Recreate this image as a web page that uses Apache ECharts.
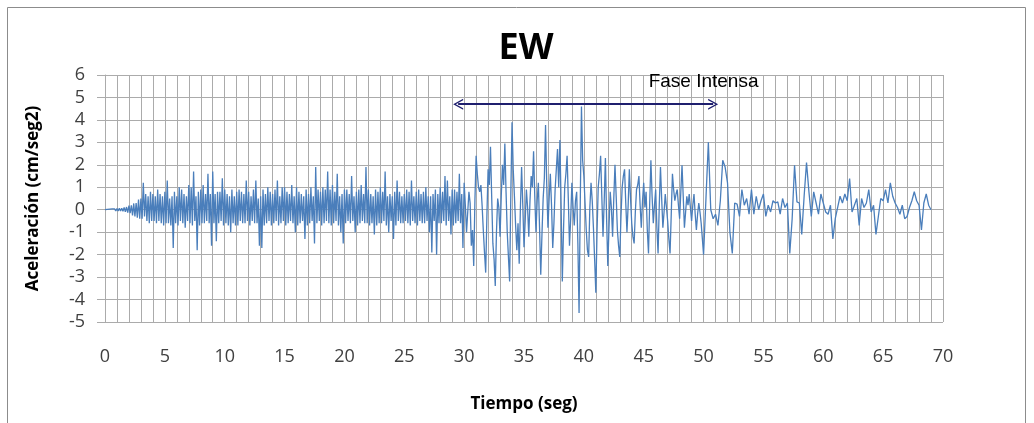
<!DOCTYPE html>
<html>
<head>
<meta charset="utf-8">
<script src="https://cdn.jsdelivr.net/npm/echarts@6/dist/echarts.min.js"></script>
<style>
  html, body { margin: 0; padding: 0; background: #fff; }
  #chart { width: 1034px; height: 423px; }
</style>
</head>
<body>
<div id="chart"></div>
<script>
// registro EW leído a ojo del gráfico: 0-50 s cada 0.1 s, 50-69 s cada 0.2 s
const acc00 = [0, -0.01, 0.02, -0.02, 0.03, -0.03, 0.04, -0.03, 0.04, -0.05,
  0.05, -0.05, 0.06, -0.06, 0.07, -0.07, 0.1, -0.09, 0.12, -0.13,
  0.18, -0.15, 0.2, -0.25, 0.28, -0.3, 0.3, -0.35, 0.45, -0.4,
  0.5, -0.4, 1.2, -0.3, 0.7, -0.5, 0.6, -0.6, 0.8, -0.5,
  0.7, -0.5, 0.6, -0.6, 0.9, -0.5, 0.7, -0.6, 0.6, -0.7,
  0.8, -0.6, 1.3, -0.6, 0.5, -0.7, 0.6, -1.7, 0.8, -0.6,
  0.6, -0.7, 1.0, -0.5, 0.9, -0.6, 0.7, -0.8, 0.6, -0.5,
  1.1, -0.6, 1.0, -0.7, 1.7, -0.5, 0.6, -1.8, 0.8, -0.7,
  0.9, -0.6, 1.1, -0.6, 0.7, -0.5, 1.6, -0.6, 0.7, -1.6,
  1.7, -0.6, 0.7, -1.4, 0.8, -0.6, 0.8, -0.5, 1.4, -0.7];
const acc10 = [0.9, -0.6, 0.7, -0.7, 0.6, -1.0, 0.9, -0.6, 0.6, -0.7,
  0.8, -0.7, 0.9, -0.5, 0.8, -0.6, 0.7, -0.6, 1.3, -0.5,
  0.8, -0.7, 0.6, -0.5, 0.9, -0.6, 1.3, -0.6, 0.5, -1.6,
  0.6, -1.7, 0.9, -0.7, 0.7, -0.6, 1.0, -0.5, 0.8, -0.7,
  0.7, -0.6, 0.9, -0.5, 1.3, -0.7, 0.6, -0.6, 1.0, -0.5,
  1.0, -0.7, 0.8, -0.6, 0.7, -0.5, 1.1, -0.6, 0.6, -1.0,
  1.0, -0.7, 0.8, -0.6, 0.7, -0.5, 0.6, -1.3, 0.9, -0.7,
  0.7, -0.6, 1.0, -0.5, 0.6, -1.5, 1.9, -0.6, 0.9, -0.5,
  0.8, -0.7, 1.0, -0.6, 0.9, -0.5, 1.7, -0.6, 0.9, -0.7,
  1.1, -0.6, 0.8, -0.5, 1.6, -0.7, 0.6, -1.0, 0.7, -1.5];
const acc20 = [0.9, -0.6, 0.9, -0.5, 0.7, -0.6, 1.5, -0.5, 0.6, -1.0,
  0.8, -0.7, 0.9, -0.6, 1.1, -0.5, 0.7, -0.6, 1.9, -0.6,
  0.9, -0.7, 0.7, -0.6, 0.6, -1.1, 0.9, -0.7, 0.8, -0.6,
  1.0, -0.6, 0.8, -0.5, 1.7, -0.7, 0.6, -1.0, 0.7, -0.5,
  0.6, -1.3, 0.8, -0.7, 1.3, -0.5, 0.8, -0.6, 0.6, -0.6,
  0.7, -0.5, 0.9, -0.6, 0.8, -0.7, 1.3, -0.5, 0.6, -0.6,
  0.8, -0.7, 0.9, -0.5, 0.7, -0.6, 0.8, -0.6, 1.0, -0.5,
  0.6, -1.0, 0.6, -1.9, 0.7, -0.5, 0.9, -2.0, 0.7, -0.6,
  1.0, -0.6, 0.8, -0.5, 1.5, -0.7, 1.3, -0.5, 0.6, -1.1,
  0.9, -0.7, 0.9, -0.6, 0.8, -0.5, 1.6, -0.6, 0.7, -1.7];
const acc30 = [1.2, 0.2, -1.0, -0.1, 0.8, 0.3, -1.6, -0.9, -2.5, 0.4,
  2.4, 1.6, 1.0, 0.8, 1.1, 0.2, -0.9, -1.9, -2.8, -0.3,
  1.8, 1.1, 2.8, 0.6, -1.5, -2.2, -3.4, -1.0, 0.5, 0.1,
  -1.2, 0.6, 2.0, 1.1, 2.95, 0.8, -1.0, -2.1, -3.2, 0.7,
  3.9, 1.8, 0.6, -0.7, -1.8, -0.6, -2.4, 0.1, 1.9, 0.2,
  -1.67, -0.5, 0.9, 0.1, -1.2, 0.4, 1.5, 1.0, 2.6, 0.6,
  -1.0, 0.4, 1.2, -0.8, -2.9, -1.1, 0.5, 1.4, 3.77, 1.1,
  -0.8, 0.5, 1.6, 0.2, -1.7, -0.6, 0.9, 1.8, 2.7, 1.0,
  3.1, 0.2, -3.2, -0.9, 1.0, 1.6, 2.4, 0.5, -1.6, -0.4,
  1.2, 0.1, -0.7, 0.4, 0.8, -1.5, -4.6, 0.3, 4.6, 2.2];
const acc40 = [1.5, 0.3, -0.9, -1.8, -2.1, 0.1, 1.2, 0.4, -0.8, -2.2,
  -3.7, -1.0, 1.0, 1.6, 2.4, 0.6, -1.2, 0.4, 2.3, -0.4,
  -2.5, -0.8, 0.8, 0.1, -1.2, 0.5, 2.0, 0.6, -0.9, -1.6,
  -2.1, -0.3, 1.0, 1.5, 1.8, 0.3, -1.0, 0.2, 1.8, 0.5,
  -0.6, -1.2, -1.5, -0.1, 0.9, 1.1, 1.5, 0.2, -0.8, 0.4,
  1.2, 0.1, 0.8, -0.9, -1.95, 0.3, 2.2, 0.6, -0.6, 0.2,
  0.9, -0.8, -1.95, 0.2, 1.9, 0.5, -0.8, -0.1, 0.7, 0.1,
  -0.5, -1.3, -1.95, -0.2, 1.6, 0.9, 0.4, 0.7, 0.9, 0.2,
  -0.4, 0.8, 1.98, 0.6, -0.8, -0.1, 0.6, 0.2, 0.7, 0.1,
  -0.5, 0.2, 0.7, -0.2, -0.9, -0.2, 0.3, -0.1, -0.6, -1.3];
const acc50 = [-2.0, 0.5, 3.0, 0.0, -0.4,
  -0.2, -0.7, 0.4, 2.2, 1.9,
  1.2, -1.0, -1.95, 0.3, 0.25,
  -0.3, 0.9, 0.2, 0.5, -0.2,
  0.9, -0.2, 0.6, 0.0, 0.4,
  0.7, -0.3, 0.2, -0.1, 0.4,
  0.3, 0.35, -0.2, 0.5, 0.1,
  0.3, -1.95, -0.4, 1.98, 0.35,
  0.3, -1.1, 0.6, 2.1, 0.8,
  -0.3, 0.8, 0.3, -0.2, 0.7];
const acc60 = [0.3, -0.1, -0.2, 0.2, -1.3,
  -0.4, 0.1, 0.6, 0.3, 0.7,
  0.4, 1.39, -0.1, 0.2, 0.5,
  -0.7, 0.5, 0.1, 0.3, 0.9,
  -0.1, 0.2, -1.1, -0.3, 0.5,
  0.4, 0.9, 0.3, 1.2, 0.6,
  0.3, 0.1, -0.2, 0.2, -0.4,
  -0.3, 0.1, 0.4, 0.8, 0.4,
  0.2, -0.9, 0.3, 0.7, 0.2,
  0.0];
// [inicio (s), paso (s), valores]
const segments = [[0, 0.1, acc00], [10, 0.1, acc10], [20, 0.1, acc20], [30, 0.1, acc30],
  [40, 0.1, acc40], [50, 0.2, acc50], [60, 0.2, acc60]];

const xTicks = { min: 0, max: 70, step: 5 };
const yTicks = { min: -5, max: 6, step: 1 };
// fase intensa (seg) y altura de la flecha
const faseIntensa = [29.5, 50.8];
const faseY = 4.7;
const faseLabel = "Fase Intensa";

const data = [];
segments.forEach(([t0, dt, vals]) => {
  vals.forEach((v, i) => data.push([+(t0 + i * dt).toFixed(2), v]));
});

const chart = echarts.init(document.getElementById("chart"), null, { renderer: "canvas" });
const gridColor = "#ababab";
const txt = "#404040";
const chevron = "path://M0,12 L6,0 L12,12 L10.4,12 L6,3.2 L1.6,12 Z";

chart.setOption({
  animation: false,
  backgroundColor: "#fff",
  title: {
    text: "EW", left: 521, top: 26, textAlign: "center",
    textStyle: { fontFamily: "Open Sans", fontWeight: "bold", fontSize: 36, color: "#000" }
  },
  graphic: [{
    type: "rect", shape: { x: 7.5, y: 7.5, width: 1018, height: 430 },
    style: { fill: "none", stroke: "#8c8c8c", lineWidth: 1 }, silent: true
  }],
  grid: { left: 105, right: 91, top: 75, bottom: 101 },
  xAxis: {
    type: "value", min: xTicks.min, max: xTicks.max, interval: xTicks.step,
    name: "Tiempo (seg)", nameLocation: "middle", nameGap: 74,
    nameTextStyle: { fontFamily: "Open Sans", fontWeight: "bold", fontSize: 17, color: "#000" },
    axisLine: { show: true, lineStyle: { color: gridColor } },
    axisTick: { show: false },
    axisLabel: { fontFamily: "Open Sans", fontSize: 18, color: txt, margin: 26 },
    splitLine: { show: true, lineStyle: { color: gridColor, width: 1 } },
    minorTick: { show: false, splitNumber: 5 },
    minorSplitLine: { show: true, lineStyle: { color: gridColor, width: 1 } }
  },
  yAxis: {
    type: "value", min: yTicks.min, max: yTicks.max, interval: yTicks.step,
    name: "Aceleración (cm/seg2)", nameLocation: "middle", nameGap: 63, nameRotate: 90,
    nameTextStyle: { fontFamily: "Open Sans", fontWeight: "bold", fontSize: 17, color: "#000" },
    axisLine: { show: true, lineStyle: { color: gridColor } },
    axisTick: { show: true, length: 8, lineStyle: { color: gridColor } },
    axisLabel: { fontFamily: "Open Sans", fontSize: 18, color: txt, margin: 20 },
    splitLine: { show: true, lineStyle: { color: gridColor, width: 1 } }
  },
  series: [{
    type: "line", data, showSymbol: false, symbol: "none", sampling: null,
    lineStyle: { color: "#4a7ebb", width: 1.3 },
    markLine: {
      silent: true, symbol: [chevron, chevron], symbolSize: [11, 10],
      lineStyle: { color: "#1f1f6e", width: 2, type: "solid" },
      label: { show: false },
      data: [[{ coord: [faseIntensa[0], faseY] }, { coord: [faseIntensa[1], faseY] }]]
    },
    markPoint: {
      silent: true, symbol: "rect", symbolSize: 1, itemStyle: { color: "rgba(0,0,0,0)" },
      label: {
        show: true, position: "inside", formatter: faseLabel,
        fontFamily: "Liberation Sans", fontSize: 19, color: "#000"
      },
      data: [{ coord: [50, 5.69] }]
    }
  }]
});
window.addEventListener("resize", () => chart.resize());
</script>
</body>
</html>
